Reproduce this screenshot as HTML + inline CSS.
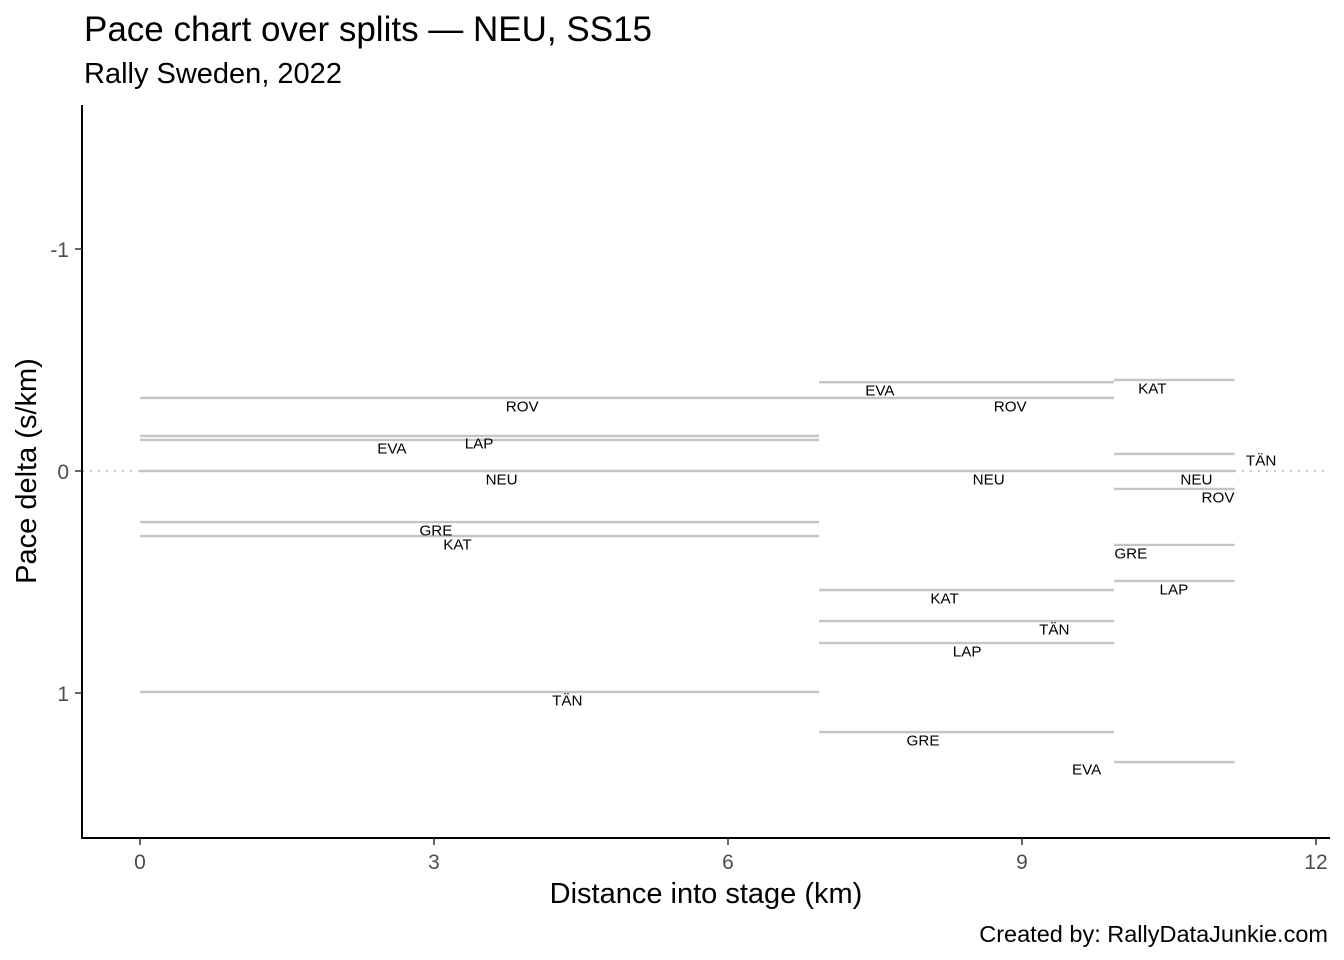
<!DOCTYPE html>
<html><head><meta charset="utf-8"><style>
html,body{margin:0;padding:0;background:#fff;}
svg{display:block;font-family:"Liberation Sans",Arial,sans-serif;}
</style></head><body>
<svg id="chart" width="1344" height="960">
<text x="84" y="41" font-size="35" fill="#000">Pace chart over splits — NEU, SS15</text>
<text x="84" y="83" font-size="29" fill="#000">Rally Sweden, 2022</text>
<g id="plot"></g>
<text x="706" y="903" font-size="29" text-anchor="middle" fill="#000">Distance into stage (km)</text>
<text transform="translate(36,471) rotate(-90)" font-size="29" text-anchor="middle" fill="#000">Pace delta (s/km)</text>
<text x="1328" y="942" font-size="23.5" text-anchor="end" fill="#000">Created by: RallyDataJunkie.com</text>
</svg>
<script>
const splitStarts = [0, 6.93, 9.94];
const splitEnds = [6.93, 9.94, 11.17];
const drivers = ["ROV","LAP","EVA","NEU","GRE","KAT","TÄN"];
const seg1 = [-0.329, -0.158, -0.14, 0, 0.23, 0.293, 0.995];
const seg2 = [-0.329, 0.775, -0.40, 0, 1.176, 0.536, 0.676];
const seg3 = [0.081, 0.495, 1.311, 0, 0.333, -0.41, -0.077];
const labelX1 = [3.9, 3.46, 2.57, 3.69, 3.02, 3.24, 4.36];
const labelX2 = [8.88, 8.44, 7.55, 8.66, 7.99, 8.21, 9.33];
const labelX3 = [11.0, 10.55, 9.66, 10.78, 10.11, 10.33, 11.44];
const labelY1 = [-0.293, -0.126, -0.104, 0.036, 0.266, 0.329, 1.031];
const labelY2 = [-0.293, 0.81, -0.365, 0.036, 1.212, 0.571, 0.712];
const labelY3 = [0.117, 0.532, 1.342, 0.036, 0.369, -0.374, -0.05];
const xTicks = [0, 3, 6, 9, 12];
const yTicks = [-1, 0, 1];

const ns = "http://www.w3.org/2000/svg";
const X = v => 140 + v * 98;
const Y = v => 471 + v * 222;
const g = document.getElementById("plot");
function mk(tag, attrs){ const e=document.createElementNS(ns,tag); for(const k in attrs) e.setAttribute(k,attrs[k]); g.appendChild(e); return e; }

let z = mk("line",{x1:82,x2:1330,y1:Y(0),y2:Y(0),stroke:"#c8c8c8","stroke-width":2,"stroke-dasharray":"2,6"});



const segs = [seg1, seg2, seg3];
const lxs = [labelX1, labelX2, labelX3];
const lys = [labelY1, labelY2, labelY3];
segs.forEach((vals, s) => {
  vals.forEach((v, i) => {
    const l = mk("line",{x1:X(splitStarts[s]),x2:X(splitEnds[s]),y1:Y(v),y2:Y(v),stroke:"#c4c4c4","stroke-width":2.4});
    
    
  });
  vals.forEach((v, i) => {
    const t = mk("text",{x:X(lxs[s][i]),y:Y(lys[s][i])+5.5,"font-size":15.2,"text-anchor":"middle",fill:"#000"});
    t.textContent = drivers[i];
    
    
  });
});

let ax = mk("line",{x1:82,x2:82,y1:105,y2:839,stroke:"#000","stroke-width":2});


let bx = mk("line",{x1:81,x2:1330,y1:838,y2:838,stroke:"#000","stroke-width":2});


xTicks.forEach(t => {
  const tk = mk("line",{x1:X(t),x2:X(t),y1:838,y2:845,stroke:"#333","stroke-width":1.5});
  
  
  const tl = mk("text",{x:X(t),y:869,"font-size":21,"text-anchor":"middle",fill:"#4d4d4d"});
  tl.textContent = t;
  
  
});
yTicks.forEach(t => {
  const tk = mk("line",{x1:75,x2:82,y1:Y(t),y2:Y(t),stroke:"#333","stroke-width":1.5});
  
  
  const tl = mk("text",{x:69,y:Y(t)+8,"font-size":21,"text-anchor":"end",fill:"#4d4d4d"});
  tl.textContent = t;
  
  
});
</script>
</body></html>
